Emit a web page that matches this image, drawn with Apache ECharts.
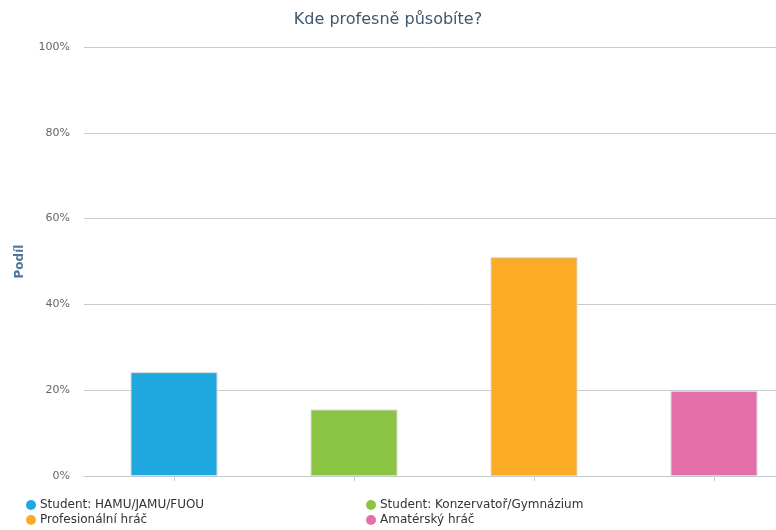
<!DOCTYPE html>
<html>
<head>
<meta charset="utf-8">
<script src="https://cdn.jsdelivr.net/npm/echarts@6/dist/echarts.min.js"></script>
<style>html,body{margin:0;padding:0;background:#fff}#c{width:776px;height:530px}</style>
</head>
<body>
<div id="c"></div>
<script>
var title = 'Kde profesně působíte?';
var yName = 'Podíl';
var categories = ['Student: HAMU/JAMU/FUOU', 'Student: Konzervatoř/Gymnázium', 'Profesionální hráč', 'Amatérský hráč'];
var values = [24.2, 15.5, 51.0, 19.8];
var colors = ['#1fa8e0', '#8bc443', '#fbab25', '#e46ea9'];
var yTicks = [0, 20, 40, 60, 80, 100];

var chart = echarts.init(document.getElementById('c'), null, {renderer: 'canvas'});
var series = categories.map(function (name, i) {
  var d = categories.map(function (_, j) { return j === i ? values[i] : '-'; });
  return {
    name: name,
    type: 'bar',
    stack: 'all',
    barWidth: 87,
    data: d,
    itemStyle: {color: colors[i], borderColor: '#d9d9d9', borderWidth: 1},
    emphasis: {disabled: true}
  };
});
var legendPos = [[21, 494], [361, 494], [21, 509], [361, 509]];
var legends = categories.map(function (name, i) {
  return {
    left: legendPos[i][0], top: legendPos[i][1],
    data: [name],
    icon: 'circle',
    itemWidth: 10,
    itemHeight: 10,
    itemStyle: {borderWidth: 0},
    textStyle: {color: '#333', fontSize: 12, fontFamily: 'DejaVu Sans', padding: [0, 0, 0, -1]},
    selectedMode: false
  };
});
chart.setOption({
  animation: false,
  title: {
    text: title, left: 'center', top: 7,
    textStyle: {color: '#3e576f', fontSize: 16, fontWeight: 'normal', fontFamily: 'DejaVu Sans'}
  },
  legend: legends,
  grid: {left: 84, width: 720, top: 47, bottom: 54, containLabel: false, outerBoundsMode: 'none'},
  xAxis: {
    type: 'category',
    data: categories,
    boundaryGap: true,
    axisLine: {show: true, lineStyle: {color: '#c0c8d0', width: 1}},
    axisTick: {show: true, interval: 0, alignWithLabel: true, length: 5, lineStyle: {color: '#c0d0e0'}},
    axisLabel: {show: false, interval: 0}
  },
  yAxis: {
    type: 'value',
    min: yTicks[0],
    max: yTicks[yTicks.length - 1],
    interval: 20,
    name: yName,
    nameLocation: 'middle',
    nameGap: 58,
    nameTextStyle: {color: '#4d759e', fontWeight: 'bold', fontSize: 12, fontFamily: 'DejaVu Sans'},
    axisLine: {show: false},
    axisTick: {show: false},
    axisLabel: {formatter: '{value}%', color: '#666', fontSize: 11, margin: 14, fontFamily: 'DejaVu Sans'},
    splitLine: {lineStyle: {color: '#cccccc', width: 1}}
  },
  series: series
});
</script>
</body>
</html>
